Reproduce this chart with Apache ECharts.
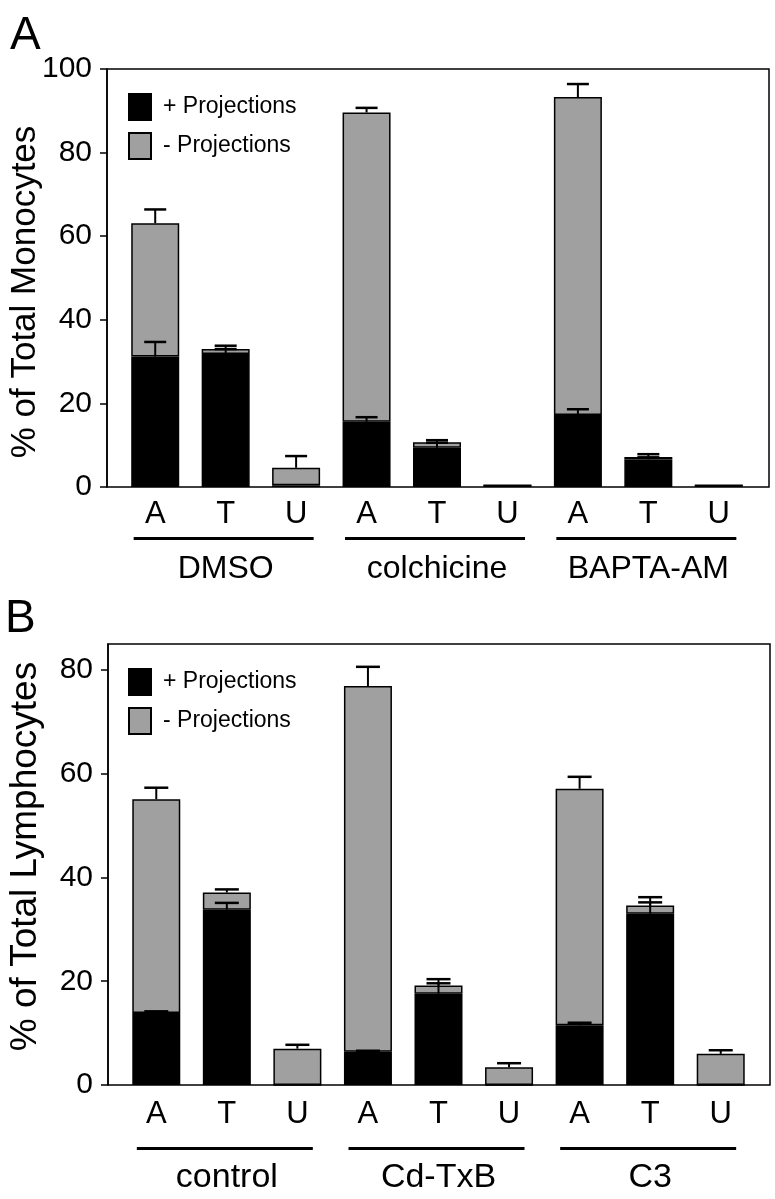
<!DOCTYPE html>
<html>
<head>
<meta charset="utf-8">
<script src="https://cdn.jsdelivr.net/npm/echarts@6/dist/echarts.min.js"></script>
<style>
html,body{margin:0;padding:0;background:#fff;}
#c{width:775px;height:1199px;}
</style>
</head>
<body>
<div id="c"></div>
<script>
// ---------- data ----------
const catsA = ['A', 'T', 'U', 'A', 'T', 'U', 'A', 'T', 'U'];
const groupsA = ['DMSO', 'colchicine', 'BAPTA-AM'];
const plusA = [31.2, 31.8, 0.4, 15.6, 9.4, 0.4, 17.2, 6.6, 0.4];
const minusA = [31.9, 1.2, 4.2, 74.0, 1.3, 0, 76.1, 0.6, 0];
const plusErrA = [3.5, 1.2, 0, 1.1, 1.2, 0, 1.4, 0.5, 0];
const totalErrA = [3.3, 0.8, 2.8, 1.1, 0.5, 0, 3.1, 0.65, 0];
const ticksA = [0, 20, 40, 60, 80, 100];

const catsB = ['A', 'T', 'U', 'A', 'T', 'U', 'A', 'T', 'U'];
const groupsB = ['control', 'Cd-TxB', 'C3'];
const plusB = [13.9, 33.8, 0, 6.4, 17.6, 0, 11.5, 33.0, 0];
const minusB = [41.2, 3.3, 7.0, 70.5, 1.6, 3.4, 45.6, 1.6, 6.0];
const plusErrB = [0.3, 1.3, 0, 0.2, 2.0, 0, 0.5, 2.2, 0];
const totalErrB = [2.2, 0.6, 0.75, 3.7, 1.2, 0.8, 2.3, 1.6, 0.7];
const ticksB = [0, 20, 40, 60, 80];

const seriesNames = ['+ Projections', '- Projections'];
// ---------- styles ----------
const FONT = '"Liberation Sans", Arial, Helvetica, sans-serif';
const BLACK = '#000000';
const GRAY = '#a0a0a0';

function errData(plus, minus, pErr, tErr) {
  const out = [];
  for (let i = 0; i < plus.length; i++) {
    if (pErr[i] > 0) out.push([i, plus[i], plus[i] + pErr[i]]);
    const tot = plus[i] + minus[i];
    if (tErr[i] > 0) out.push([i, tot, tot + tErr[i]]);
  }
  return out;
}
function errRender(half) {
  return function (params, api) {
    const x = api.value(0), lo = api.value(1), hi = api.value(2);
    const p1 = api.coord([x, lo]);
    const p2 = api.coord([x, hi]);
    return {
      type: 'group',
      children: [
        { type: 'line', shape: { x1: p1[0], y1: p1[1], x2: p2[0], y2: p2[1] }, style: { stroke: BLACK, lineWidth: 2 } },
        { type: 'line', shape: { x1: p2[0] - half, y1: p2[1], x2: p2[0] + half, y2: p2[1] }, style: { stroke: BLACK, lineWidth: 2.5 } }
      ]
    };
  };
}

const chart = echarts.init(document.getElementById('c'), null, { renderer: 'canvas' });

function valueAxis(grid, max, ticks, name, nameSize, namePad, nameGap) {
  return {
    type: 'value', gridIndex: grid, min: 0, max: max, interval: 20, offset: 13,
    name: name, nameLocation: 'middle', nameGap: nameGap, nameMoveOverlap: false,
    nameTextStyle: { fontFamily: FONT, fontSize: nameSize, color: BLACK, padding: namePad },
    axisLine: { show: true, lineStyle: { color: BLACK, width: 1.5 } },
    axisTick: { show: true, inside: false, length: 7, lineStyle: { color: BLACK, width: 1.5 }, customValues: ticks },
    axisLabel: { fontFamily: FONT, fontSize: 30, color: BLACK, margin: 15, customValues: ticks },
    splitLine: { show: false }
  };
}
function catAxis(grid, cats, margin) {
  return {
    type: 'category', gridIndex: grid, data: cats, position: 'bottom',
    axisLine: { show: false }, axisTick: { show: false },
    axisLabel: { fontFamily: FONT, fontSize: 31, color: BLACK, margin: margin, interval: 0 }
  };
}
function groupAxis(grid, groups, margin, size) {
  return {
    type: 'category', gridIndex: grid, data: groups, position: 'bottom',
    axisLine: { show: false }, axisTick: { show: false },
    axisLabel: { fontFamily: FONT, fontSize: size, color: BLACK, margin: margin, interval: 0 }
  };
}
function barSeries(name, xi, yi, data, color, stack) {
  return {
    type: 'bar', name: name, xAxisIndex: xi, yAxisIndex: yi, stack: stack, data: data,
    barWidth: 48,
    itemStyle: { color: color, borderColor: BLACK, borderWidth: 1.5 },
    emphasis: { disabled: true }, animation: false
  };
}
function legend(top) {
  return {
    left: 123, top: top, orient: 'vertical', itemWidth: 22, itemHeight: 26, itemGap: 11,
    selectedMode: false,
    data: seriesNames.map(n => ({ name: n, icon: 'rect' })),
    textStyle: { fontFamily: FONT, fontSize: 23, color: BLACK, padding: [0, 0, 0, 7] }
  };
}
function grid(left, right, top, bottom, frame) {
  const g = { left: left, right: right, top: top, bottom: bottom, containLabel: false, outerBoundsMode: 'none' };
  if (frame) { g.show = true; g.borderColor = BLACK; g.borderWidth = 1.5; g.backgroundColor = 'transparent'; }
  return g;
}

const option = {
  animation: false,
  backgroundColor: '#ffffff',
  title: [
    { text: 'A', left: 5, top: 8, textStyle: { fontFamily: FONT, fontSize: 46, fontWeight: 'normal', color: BLACK } },
    { text: 'B', left: 0, top: 591, textStyle: { fontFamily: FONT, fontSize: 46, fontWeight: 'normal', color: BLACK } }
  ],
  legend: [legend(88), legend(663)],
  grid: [
    grid(120, 21, 69, 712, false),
    grid(107, 6, 69, 712, true),
    grid(121, 19, 644, 114, false),
    grid(108, 5, 644, 114, true)
  ],
  xAxis: [
    catAxis(0, catsA, 12),
    groupAxis(0, groupsA, 66, 32),
    { type: 'value', gridIndex: 1, show: false },
    catAxis(2, catsB, 14),
    groupAxis(2, groupsB, 76, 34),
    { type: 'value', gridIndex: 3, show: false }
  ],
  yAxis: [
    valueAxis(0, 100, ticksA, '% of Total Monocytes', 35, [0, 28, 0, 0], 64),
    { type: 'value', gridIndex: 1, show: false },
    valueAxis(2, 85, ticksB, '% of Total Lymphocytes', 37, [0, 0, 0, 16], 64),
    { type: 'value', gridIndex: 3, show: false }
  ],
  series: [
    barSeries(seriesNames[0], 0, 0, plusA, BLACK, 'a'),
    barSeries(seriesNames[1], 0, 0, minusA, GRAY, 'a'),
    {
      type: 'custom', xAxisIndex: 0, yAxisIndex: 0, z: 5, silent: true,
      data: errData(plusA, minusA, plusErrA, totalErrA),
      encode: { x: 0, y: [1, 2] }, renderItem: errRender(11)
    },
    barSeries(seriesNames[0], 3, 2, plusB, BLACK, 'b'),
    barSeries(seriesNames[1], 3, 2, minusB, GRAY, 'b'),
    {
      type: 'custom', xAxisIndex: 3, yAxisIndex: 2, z: 5, silent: true,
      data: errData(plusB, minusB, plusErrB, totalErrB),
      encode: { x: 0, y: [1, 2] }, renderItem: errRender(12)
    }
  ]
};
chart.setOption(option);

// group underlines, positioned from the category axes
function underlines(xi, yi, below, halfLen) {
  const out = [];
  const base = chart.convertToPixel({ yAxisIndex: yi }, 0);
  for (let g = 0; g < 3; g++) {
    const cx = chart.convertToPixel({ xAxisIndex: xi }, g * 3 + 1) - 2;
    out.push({
      type: 'line', silent: true,
      shape: { x1: cx - halfLen, y1: base + below, x2: cx + halfLen, y2: base + below },
      style: { stroke: BLACK, lineWidth: 3.2 }
    });
  }
  return out;
}
chart.setOption({ graphic: underlines(0, 0, 51.5, 90).concat(underlines(3, 2, 63.5, 88)) });
</script>
</body>
</html>
